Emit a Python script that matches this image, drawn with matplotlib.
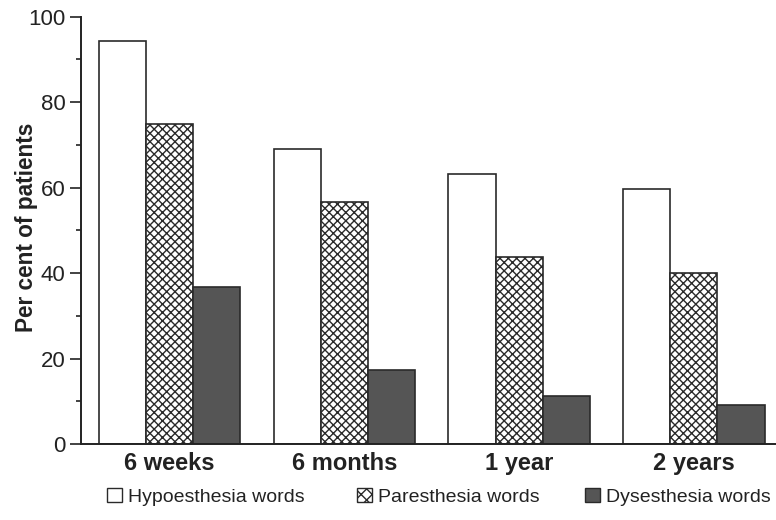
import numpy as np
import matplotlib.pyplot as plt
from matplotlib.patches import Patch
from matplotlib.ticker import MultipleLocator

plt.rcParams['font.family'] = ['Liberation Sans', 'DejaVu Sans']
plt.rcParams['hatch.linewidth'] = 1.0

# data
periods = ['6 weeks', '6 months', '1 year', '2 years']
hypo = [94.3, 69.0, 63.2, 59.6]
pares = [75.0, 56.6, 43.8, 39.9]
dyses = [36.7, 17.3, 11.3, 9.1]
series_names = ['Hypoesthesia words', 'Paresthesia words', 'Dysesthesia words']

fig = plt.figure(figsize=(7.76, 5.2), dpi=100)
ax = fig.add_axes([0.1044, 0.1462, 0.8956, 0.8217])

x = np.arange(len(periods))
w = 0.27
edge = '#2a2a2a'
ax.bar(x - w, hypo, w, color='white', edgecolor=edge, linewidth=1.2)
ax.bar(x, pares, w, color='white', edgecolor=edge, linewidth=1.2, hatch='xxxx')
ax.bar(x + w, dyses, w, color='#555555', edgecolor=edge, linewidth=1.2)

ax.set_xlim(-0.507, 3.47)
ax.set_ylim(0, 100)
ax.yaxis.set_major_locator(MultipleLocator(20))
ax.yaxis.set_minor_locator(MultipleLocator(10))
ax.tick_params(axis='y', which='major', length=8, width=1.2, labelsize=16, pad=3,
               colors='#222222', labelcolor='#222222')
ax.tick_params(axis='y', which='minor', length=3.8, width=1.2, colors='#222222')
ax.tick_params(axis='x', length=0, labelsize=17, pad=6, labelcolor='#222222')
ax.set_xticks(x)
ax.set_xticklabels(periods, fontweight='bold')
ax.set_ylabel('Per cent of patients', fontsize=16.3, fontweight='bold',
              color='#222222')
ax.yaxis.set_label_coords(-0.062, 0.508)

for s in ['top', 'right']:
    ax.spines[s].set_visible(False)
for s in ['left', 'bottom']:
    ax.spines[s].set_linewidth(1.4)
    ax.spines[s].set_color('#222222')

# legend, one entry each, spaced like the original
handles = [Patch(facecolor='white', edgecolor=edge, linewidth=1.0),
           Patch(facecolor='white', edgecolor=edge, linewidth=1.0, hatch='xxx'),
           Patch(facecolor='#555555', edgecolor=edge, linewidth=1.0)]
xpos = [107, 357, 585]
for h, name, xp in zip(handles, series_names, xpos):
    fig.legend(handles=[h], labels=[name], loc='center left',
               bbox_to_anchor=(xp / 776, 1 - 497 / 520), frameon=False,
               fontsize=14, borderpad=0, borderaxespad=0,
               handlelength=0.75, handleheight=0.75, handletextpad=0.35,
               labelcolor='#222222')

plt.savefig('out.png', dpi=100)
